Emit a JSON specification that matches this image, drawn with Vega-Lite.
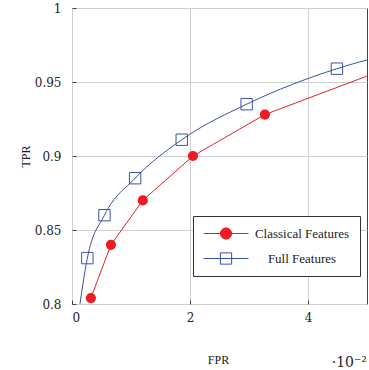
{
  "$schema": "https://vega.github.io/schema/vega-lite/v6.json",
  "width": 295,
  "height": 296,
  "autosize": "none",
  "padding": {"left": 72, "top": 8, "right": 2, "bottom": 66},
  "background": "white",
  "title": {"text": "·10⁻²", "orient": "bottom", "anchor": "end", "font": "DejaVu Serif", "fontSize": 14, "fontWeight": "normal", "color": "#222222", "offset": -9},
  "config": {
    "view": {"stroke": "#444444", "strokeWidth": 1},
    "axis": {
      "labelFont": "DejaVu Serif",
      "labelFontSize": 12,
      "labelColor": "#222222",
      "titleFont": "Liberation Serif",
      "titleFontSize": 12,
      "titleFontWeight": "normal",
      "titleColor": "#222222",
      "gridColor": "#d0d0d0",
      "gridWidth": 1,
      "domain": false,
      "tickColor": "#444444",
      "tickSize": -4,
      "labelPadding": 12
    }
  },
  "data": {
    "values": [
      {"series": "Classical Features", "fpr": 0.32, "tpr": 0.804},
      {"series": "Classical Features", "fpr": 0.66, "tpr": 0.84},
      {"series": "Classical Features", "fpr": 1.2, "tpr": 0.87},
      {"series": "Classical Features", "fpr": 2.05, "tpr": 0.9},
      {"series": "Classical Features", "fpr": 3.27, "tpr": 0.928},
      {"series": "Classical Features", "fpr": 6.0, "tpr": 0.969},
      {"series": "Full Features", "fpr": 0.1, "tpr": 0.79},
      {"series": "Full Features", "fpr": 0.26, "tpr": 0.831},
      {"series": "Full Features", "fpr": 0.55, "tpr": 0.86},
      {"series": "Full Features", "fpr": 1.07, "tpr": 0.885},
      {"series": "Full Features", "fpr": 1.86, "tpr": 0.911},
      {"series": "Full Features", "fpr": 2.96, "tpr": 0.935},
      {"series": "Full Features", "fpr": 4.49, "tpr": 0.959},
      {"series": "Full Features", "fpr": 6.0, "tpr": 0.974}
    ]
  },
  "encoding": {
    "x": {
      "field": "fpr", "type": "quantitative",
      "scale": {"domain": [0, 5], "nice": false, "zero": false},
      "axis": {"values": [0, 2, 4], "title": "FPR", "titleBaseline": "middle", "titleY": 55, "titleX": 146}
    },
    "y": {
      "field": "tpr", "type": "quantitative",
      "scale": {"domain": [0.8, 1], "nice": false, "zero": false},
      "axis": {"values": [0.8, 0.85, 0.9, 0.95, 1], "format": "~g", "title": "TPR", "titleBaseline": "middle", "titleX": -47, "titleY": 148, "labelPadding": 15}
    }
  },
  "layer": [
    {
      "transform": [{"filter": "datum.series === 'Classical Features'"}],
      "mark": {"type": "line", "strokeWidth": 1, "clip": true},
      "encoding": {
        "color": {
          "field": "series", "type": "nominal",
          "scale": {"domain": ["Classical Features", "Full Features"], "range": ["#ed1c24", "#3953a4"]},
          "legend": {
            "title": null,
            "orient": "none", "legendX": 121, "legendY": 208,
            "padding": 10, "strokeColor": "#333333", "fillColor": "#ffffff",
            "symbolSize": 2025, "symbolStrokeWidth": 1, "symbolOffset": 0,
            "clipHeight": 15,
            "symbolType": {"expr": "datum.value === 'Classical Features' ? 'M-1,0H1M0.25,0A0.25,0.25,0,1,1,-0.25,0A0.25,0.25,0,1,1,0.25,0Z' : 'M-1,0H1M-0.25,-0.25H0.25V0.25H-0.25Z'"},
            "symbolFillColor": {"expr": "datum.value === 'Classical Features' ? '#ed1c24' : 'transparent'"},
            "symbolStrokeColor": {"expr": "datum.value === 'Classical Features' ? '#ed1c24' : '#3953a4'"},
            "labelFont": "Liberation Serif", "labelFontSize": 13, "labelColor": "#222222",
            "labelExpr": "'\u2003' + datum.label + '\u2003'",
            "labelAlign": "center", "labelOffset": 53, "rowPadding": 10
          }
        }
      }
    },
    {
      "transform": [{"filter": "datum.series === 'Full Features'"}],
      "mark": {"type": "line", "strokeWidth": 1, "interpolate": "monotone", "clip": true},
      "encoding": {
        "color": {
          "field": "series", "type": "nominal",
          "scale": {"domain": ["Classical Features", "Full Features"], "range": ["#ed1c24", "#3953a4"]},
          "legend": null
        }
      }
    },
    {
      "transform": [{"filter": "datum.series === 'Classical Features'"}],
      "mark": {"type": "point", "shape": "circle", "filled": true, "size": 104, "color": "#ed1c24", "opacity": 1, "clip": true}
    },
    {
      "transform": [{"filter": "datum.series === 'Full Features'"}],
      "mark": {"type": "point", "shape": "square", "filled": false, "size": 130, "strokeWidth": 1, "color": "#3953a4", "opacity": 1, "clip": true}
    }
  ]
}
